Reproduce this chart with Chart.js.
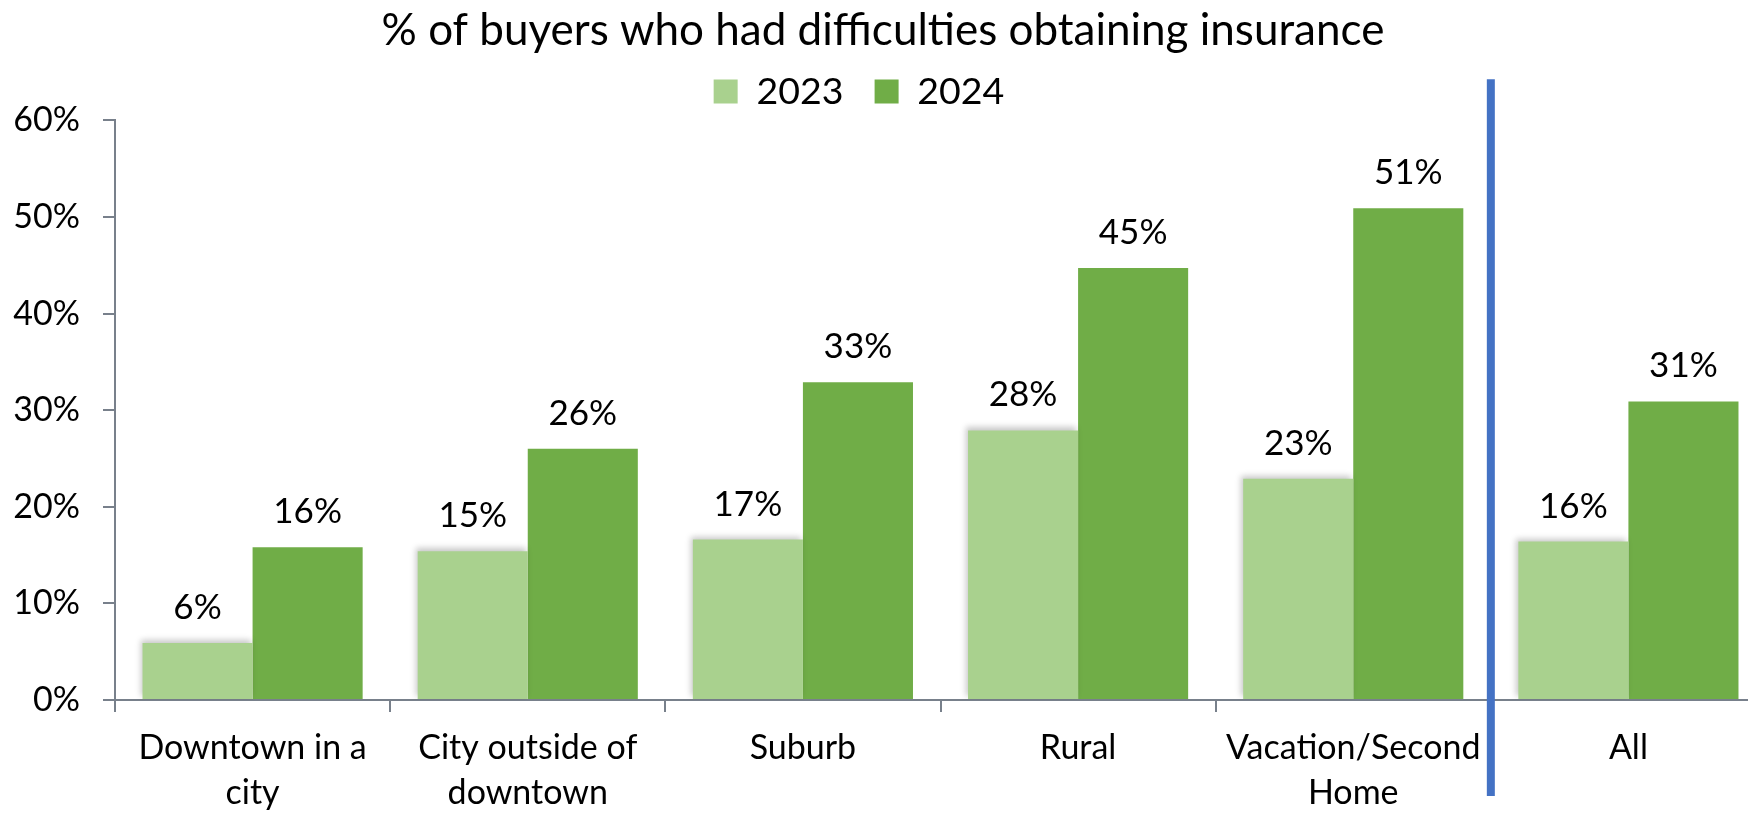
<!DOCTYPE html>
<html>
<head>
<meta charset="utf-8">
<script src="https://cdn.jsdelivr.net/npm/chart.js@4/dist/chart.umd.min.js"></script>
<style>
  html, body { margin: 0; padding: 0; background: #fff; overflow: hidden; }
</style>
</head>
<body>
<canvas id="chart" width="1766" height="813"></canvas>
<script>
const categories = [
  ["Downtown in a", "city"],
  ["City outside of", "downtown"],
  "Suburb",
  "Rural",
  ["Vacation/Second", "Home"],
  "All"
];
const seriesNames = ["2023", "2024"];
const values2023 = [5.9, 15.4, 16.6, 27.9, 22.9, 16.4];
const values2024 = [15.8, 26.0, 32.9, 44.7, 50.9, 30.9];
const yTicks = [0, 10, 20, 30, 40, 50, 60];

const FONT = "Lato, 'Liberation Sans', sans-serif";
const AXIS_GREY = "#78808b";

// value labels above each bar
const valueLabels = {
  id: "valueLabels",
  afterDatasetsDraw(chart) {
    const ctx = chart.ctx;
    ctx.save();
    ctx.font = "35px " + FONT;
    ctx.fillStyle = "#000";
    ctx.textAlign = "center";
    ctx.textBaseline = "alphabetic";
    chart.data.datasets.forEach((ds, i) => {
      chart.getDatasetMeta(i).data.forEach((bar, j) => {
        ctx.fillText(Math.round(ds.data[j]) + "%", bar.x, bar.y - 24);
      });
    });
    ctx.restore();
  }
};

// soft shadow on the light bars
const lightShadow = {
  id: "lightShadow",
  beforeDatasetDraw(chart, args) {
    if (args.index !== 0) return;
    const ctx = chart.ctx;
    ctx.save();
    ctx.shadowColor = "rgba(0,0,0,0.22)";
    ctx.shadowBlur = 6;
    ctx.shadowOffsetX = -2;
    ctx.shadowOffsetY = -3;
  },
  afterDatasetDraw(chart, args) {
    if (args.index !== 0) return;
    chart.ctx.restore();
  }
};

// blue separator before the "All" group
const separator = {
  id: "separator",
  afterDraw(chart) {
    const x = chart.scales.x;
    const area = chart.chartArea;
    const n = categories.length;
    const xPos = (x.getPixelForValue(n - 2) + x.getPixelForValue(n - 1)) / 2;
    const ctx = chart.ctx;
    ctx.save();
    ctx.strokeStyle = "#4472C4";
    ctx.lineWidth = 8;
    ctx.beginPath();
    ctx.moveTo(xPos, area.top - 41);
    ctx.lineTo(xPos, area.bottom + 96);
    ctx.stroke();
    ctx.restore();
  }
};

// nudge the legend a little left, like the original
const legendShift = {
  id: "legendShift",
  afterLayout(chart) {
    chart.legend.left -= 24;
    chart.legend.right -= 24;
  }
};

new Chart(document.getElementById("chart"), {
  type: "bar",
  data: {
    labels: categories,
    datasets: [
      {
        label: seriesNames[0],
        data: values2023,
        backgroundColor: "#A9D18E",
        borderWidth: 0,
        categoryPercentage: 0.8,
        barPercentage: 1.0
      },
      {
        label: seriesNames[1],
        data: values2024,
        backgroundColor: "#70AD47",
        borderWidth: 0,
        categoryPercentage: 0.8,
        barPercentage: 1.0
      }
    ]
  },
  options: {
    responsive: false,
    animation: false,
    layout: { padding: { left: 0, right: 0, top: 0, bottom: 0 } },
    plugins: {
      tooltip: { enabled: false },
      title: {
        display: true,
        text: "% of buyers who had difficulties obtaining insurance",
        color: "#000",
        font: { family: FONT, size: 44, weight: "normal" },
        padding: { top: 4, bottom: 4 }
      },
      legend: {
        display: true,
        labels: {
          color: "#000",
          font: { family: FONT, size: 37.5 },
          boxWidth: 24,
          boxHeight: 24,
          padding: 12,
          generateLabels(chart) {
            const items = Chart.defaults.plugins.legend.labels.generateLabels(chart);
            // widen the gap after the first entry
            items[0].text = items[0].text + "  ";
            return items;
          }
        }
      }
    },
    scales: {
      x: {
        offset: true,
        grid: {
          display: true,
          offset: true,
          drawOnChartArea: false,
          drawTicks: true,
          tickLength: 12,
          color: AXIS_GREY,
          lineWidth: 2
        },
        border: { display: true, color: AXIS_GREY, width: 2 },
        ticks: {
          color: "#000",
          font: { family: FONT, size: 34, lineHeight: 1.32 },
          padding: 14,
          maxRotation: 0,
          autoSkip: false
        },
        afterFit(scale) { scale.height = 113; }
      },
      y: {
        min: yTicks[0],
        max: yTicks[yTicks.length - 1],
        afterBuildTicks(scale) { scale.ticks = yTicks.map(v => ({ value: v })); },
        grid: {
          display: true,
          drawOnChartArea: false,
          drawTicks: true,
          tickLength: 12,
          color: AXIS_GREY,
          lineWidth: 2
        },
        border: { display: true, color: AXIS_GREY, width: 2 },
        ticks: {
          color: "#000",
          font: { family: FONT, size: 34 },
          padding: 23,
          callback: v => v + "%"
        },
        afterFit(scale) { scale.width = 115; }
      }
    }
  },
  plugins: [valueLabels, lightShadow, separator, legendShift]
});
</script>
</body>
</html>
